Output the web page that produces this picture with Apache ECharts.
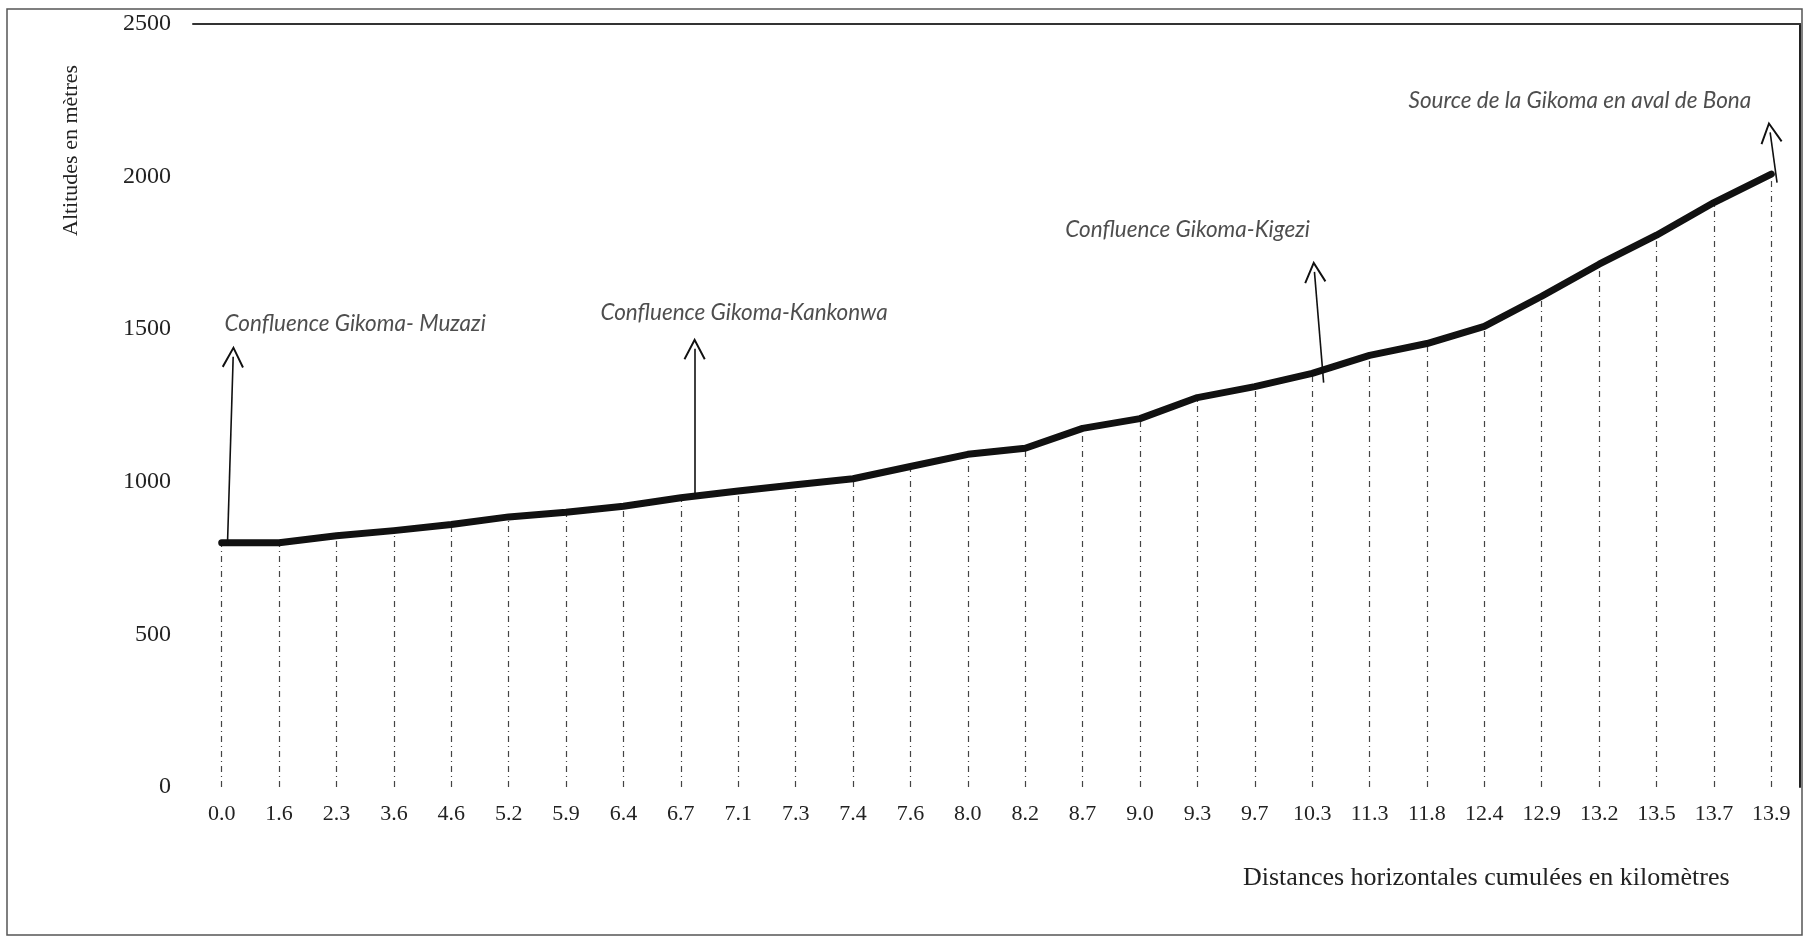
<!DOCTYPE html>
<html>
<head>
<meta charset="utf-8">
<title>Profil en long de la Gikoma</title>
<script src="https://cdn.jsdelivr.net/npm/echarts@6/dist/echarts.min.js"></script>
<style>
  html, body { margin: 0; padding: 0; background: #fff; }
  #chart { width: 1813px; height: 938px; }
</style>
</head>
<body>
<div id="chart"></div>
<script>
// distances horizontales cumulées (km)
const distances = ['0.0', '1.6', '2.3', '3.6', '4.6', '5.2', '5.9', '6.4', '6.7', '7.1',
  '7.3', '7.4', '7.6', '8.0', '8.2', '8.7', '9.0', '9.3', '9.7', '10.3',
  '11.3', '11.8', '12.4', '12.9', '13.2', '13.5', '13.7', '13.9']

// altitudes (m)
const altitudes = [800, 800, 823, 840, 860, 885, 900, 920, 948, 970,
  990, 1010, 1050, 1090, 1110, 1175, 1207, 1276, 1312, 1355,
  1414, 1453, 1509, 1608, 1713, 1808, 1915, 2008]

// annotations: arrow from base to tip, text anchored at its left edge
const annotLabels = ['Confluence Gikoma- Muzazi', 'Confluence Gikoma-Kankonwa',
  'Confluence Gikoma-Kigezi', 'Source de la Gikoma en aval de Bona']
const arrowBase = [[0.1, 790], [8.24, 953], [19.2, 1325], [27.1, 1980]]
const arrowTip = [[0.2, 1410], [8.24, 1436], [19.04, 1688], [26.98, 2145]]
const labelAnchor = [[0.05, 1518], [6.6, 1554], [14.7, 1826], [20.68, 2249]]

const serif = '"Liberation Serif", "Times New Roman", serif'
const chevron = 'path://M0,16 L9,0 L18,16 L16.6,16.8 L9,3.2 L1.4,16.8 Z'

const chart = echarts.init(document.getElementById('chart'))

chart.setOption({
  animation: false,
  backgroundColor: '#fff',
  grid: { left: 193, right: 13, top: 24, bottom: 151 },
  xAxis: [
    {
      type: 'category',
      data: distances,
      boundaryGap: true,
      axisLine: { show: false },
      axisTick: { show: false },
      splitLine: { show: false },
      axisLabel: { fontFamily: serif, fontSize: 22, color: '#222', margin: 16 }
    },
    {
      // helper axis for annotations, also draws the top frame line
      type: 'value',
      position: 'top',
      min: -0.5,
      max: distances.length - 0.5,
      axisLine: { show: true, onZero: false, lineStyle: { color: '#333', width: 2 } },
      axisTick: { show: false },
      axisLabel: { show: false },
      splitLine: { show: false }
    }
  ],
  yAxis: [
    {
      type: 'value',
      min: 0,
      max: 2500,
      interval: 500,
      axisLine: { show: false },
      axisTick: { show: false },
      splitLine: { show: false },
      axisLabel: { fontFamily: serif, fontSize: 24, color: '#222', margin: 22, formatter: v => String(v) }
    },
    {
      type: 'value',
      position: 'right',
      min: 0,
      max: 2500,
      axisLine: { show: true, onZero: false, lineStyle: { color: '#222', width: 2 } },
      axisTick: { show: false },
      axisLabel: { show: false },
      splitLine: { show: false }
    }
  ],
  series: [
    {
      type: 'line',
      data: altitudes,
      showSymbol: false,
      lineStyle: { color: '#111', width: 7, cap: 'round', join: 'round' },
      z: 5,
      markLine: {
        silent: true,
        symbol: ['none', 'none'],
        label: { show: false },
        lineStyle: { color: '#444', width: 1.2, type: [6, 4, 1, 4] },
        data: altitudes.map((v, i) => [
          { coord: [i, 0] },
          { coord: [i, v] }
        ])
      }
    },
    {
      type: 'lines',
      coordinateSystem: 'cartesian2d',
      xAxisIndex: 1,
      silent: true,
      symbol: ['none', chevron],
      symbolSize: [24, 22],
      lineStyle: { color: '#111', width: 1.6, opacity: 1 },
      z: 6,
      data: arrowBase.map((b, i) => ({ coords: [b, arrowTip[i]] }))
    },
    {
      type: 'scatter',
      xAxisIndex: 1,
      symbolSize: 0,
      silent: true,
      label: {
        show: true,
        position: 'right',
        distance: 0,
        formatter: p => p.data[2],
        fontFamily: 'Lato, "Open Sans", sans-serif',
        fontStyle: 'italic',
        fontSize: 22.5,
        color: '#222'
      },
      data: labelAnchor.map((a, i) => [a[0], a[1], annotLabels[i]])
    }
  ],
  graphic: [
    {
      type: 'rect',
      shape: { x: 7, y: 9, width: 1795, height: 926 },
      style: { fill: 'none', stroke: '#555', lineWidth: 1.5 },
      silent: true
    },
    {
      type: 'text',
      left: 1243,
      top: 865,
      style: { text: 'Distances horizontales cumulées en kilomètres', font: '26px ' + serif, fill: '#222' }
    },
    {
      type: 'text',
      x: 60,
      y: 236,
      rotation: Math.PI / 2,
      style: { text: 'Altitudes en mètres', font: '22px ' + serif, fill: '#222' }
    }
  ]
})
</script>
</body>
</html>
